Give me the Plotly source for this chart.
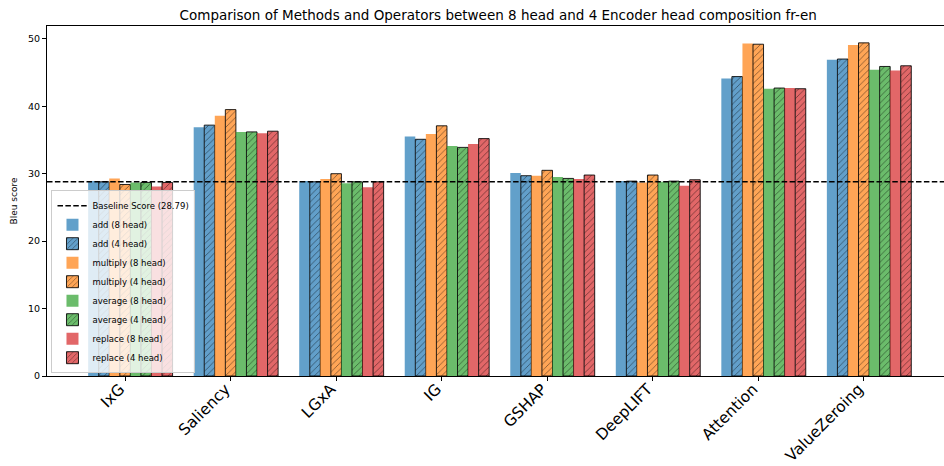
import plotly.graph_objects as go

categories = ["IxG", "Saliency", "LGxA", "IG", "GSHAP", "DeepLIFT", "Attention", "ValueZeroing"]
baseline = 28.79

add_8 = [28.9, 36.9, 28.9, 35.5, 30.1, 28.9, 44.1, 46.9]
add_4 = [28.8, 37.2, 28.8, 35.1, 29.7, 28.9, 44.4, 47.0]
multiply_8 = [29.3, 38.6, 29.2, 35.9, 29.7, 28.7, 49.3, 49.1]
multiply_4 = [28.4, 39.5, 30.0, 37.1, 30.5, 29.8, 49.2, 49.4]
average_8 = [28.7, 36.2, 28.6, 34.1, 29.5, 28.8, 42.6, 45.4]
average_4 = [28.7, 36.2, 28.8, 33.9, 29.3, 28.9, 42.7, 45.9]
replace_8 = [28.1, 36.0, 28.0, 34.4, 29.2, 28.2, 42.7, 45.3]
replace_4 = [28.7, 36.3, 28.8, 35.2, 29.8, 29.1, 42.6, 46.0]

series = [
    ("add (8 head)", add_8, "rgba(31,119,180,0.7)", False),
    ("add (4 head)", add_4, "rgba(31,119,180,0.7)", True),
    ("multiply (8 head)", multiply_8, "rgba(255,127,14,0.7)", False),
    ("multiply (4 head)", multiply_4, "rgba(255,127,14,0.7)", True),
    ("average (8 head)", average_8, "rgba(44,160,44,0.7)", False),
    ("average (4 head)", average_4, "rgba(44,160,44,0.7)", True),
    ("replace (8 head)", replace_8, "rgba(214,39,40,0.7)", False),
    ("replace (4 head)", replace_4, "rgba(214,39,40,0.7)", True),
]

bar_w = 0.1
x_idx = list(range(len(categories)))
x_range = [-0.74, 7.76]

fig = go.Figure()
fig.add_trace(go.Scatter(
    x=x_range, y=[baseline, baseline], mode="lines",
    line=dict(color="black", width=1.5, dash="5.5px,2.4px"),
    name=f"Baseline Score ({baseline})",
))

for i, (name, vals, color, hatched) in enumerate(series):
    marker = dict(color=color)
    if hatched:
        marker["line"] = dict(color="rgba(0,0,0,0.85)", width=1)
        marker["pattern"] = dict(shape="/", fgcolor="black", size=4.5, solidity=0.18, fillmode="overlay")
    else:
        marker["line"] = dict(width=0)
    fig.add_trace(go.Bar(
        x=x_idx, y=vals, name=name, width=bar_w,
        offset=(i - 3.5) * bar_w, marker=marker,
    ))

fig.update_layout(
    template="none",
    width=944, height=466,
    margin=dict(l=47, r=0, t=26, b=90),
    plot_bgcolor="white", paper_bgcolor="white",
    barmode="overlay",
    font=dict(family="DejaVu Sans", color="black"),
    title=dict(text="Comparison of Methods and Operators between 8 head and 4 Encoder head composition fr-en",
               x=0.503, xref="paper", xanchor="center", y=0.968, yref="container", yanchor="middle",
               font=dict(size=13.5, family="DejaVu Sans")),
    legend=dict(x=0.005, y=0.008, xanchor="left", yanchor="bottom",
                bgcolor="rgba(255,255,255,0.8)", bordercolor="#cccccc", borderwidth=1,
                font=dict(size=8.5), tracegroupgap=0, traceorder="normal"),
    xaxis=dict(range=x_range, tickmode="array", tickvals=x_idx, ticktext=categories,
               tickangle=-45, tickfont=dict(size=15.5), ticks="outside", ticklen=4,
               ticklabelstandoff=-7, ticklabelshift=-5,
               tickcolor="black", automargin=False,
               showline=True, linecolor="black", linewidth=1, mirror=True,
               showgrid=False, zeroline=False),
    yaxis=dict(range=[0, 51.9], tickmode="array", tickvals=[0, 10, 20, 30, 40, 50], ticks="outside", ticklen=4,
               tickcolor="black", automargin=False,
               tickfont=dict(size=9.5), showline=True, linecolor="black", linewidth=1, mirror=True,
               showgrid=False, zeroline=False,
               title=dict(text="Bleu score", font=dict(size=9), standoff=8)),
)

fig.write_html("out.html", config={"displayModeBar": False},
               post_script="document.body.style.margin='0';")
